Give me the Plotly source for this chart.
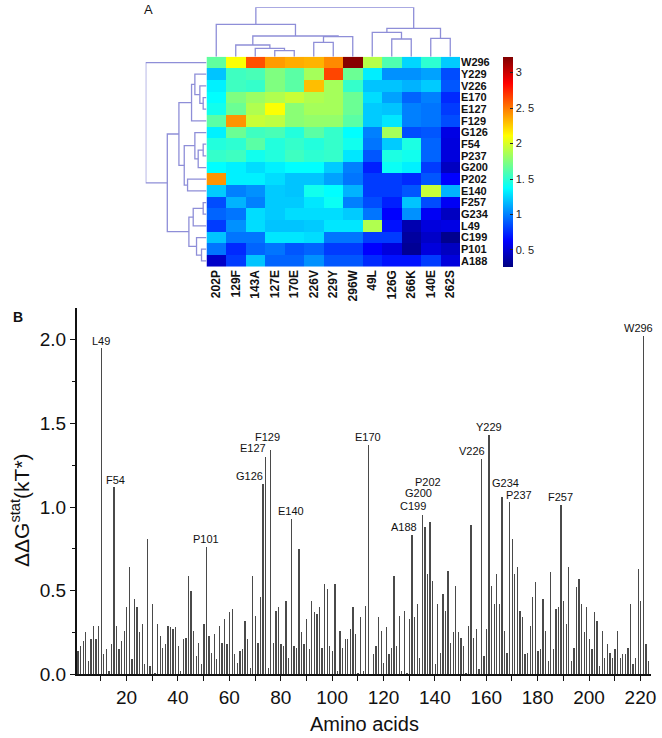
import plotly.graph_objects as go

# ---------------- data ----------------
col_labels = ["202P", "129F", "143A", "127E", "170E", "226V", "229Y", "296W",
              "49L", "126G", "266K", "140E", "262S"]
row_labels = ["W296", "Y229", "V226", "E170", "E127", "F129", "G126", "F54",
              "P237", "G200", "P202", "E140", "F257", "G234", "L49", "C199",
              "P101", "A188"]
heat_values = [
    [1.65, 2.10, 2.62, 2.40, 2.35, 2.33, 2.45, 3.20, 1.90, 1.60, 1.25, 1.50, 1.22],
    [1.20, 1.55, 1.58, 1.74, 1.63, 1.85, 2.65, 1.68, 1.32, 1.05, 1.05, 1.10, 0.85],
    [1.33, 1.55, 1.52, 1.74, 1.63, 2.30, 1.85, 1.52, 1.20, 1.20, 1.15, 1.22, 0.88],
    [1.37, 1.74, 1.82, 1.88, 1.95, 1.88, 1.85, 1.68, 1.27, 1.10, 0.92, 1.00, 0.75],
    [1.42, 1.68, 1.88, 2.10, 1.77, 1.85, 1.85, 1.68, 1.22, 1.20, 1.00, 0.97, 0.80],
    [1.63, 2.42, 1.95, 1.92, 1.77, 1.80, 1.80, 1.63, 1.22, 1.30, 1.00, 0.97, 0.85],
    [1.33, 1.68, 1.55, 1.58, 1.47, 1.63, 1.52, 1.37, 1.00, 1.85, 0.85, 0.88, 0.55],
    [1.47, 1.50, 1.63, 1.47, 1.52, 1.47, 1.52, 1.42, 0.97, 1.22, 1.45, 0.92, 0.53],
    [1.52, 1.55, 1.42, 1.47, 1.55, 1.50, 1.52, 1.30, 0.88, 1.45, 1.42, 0.92, 0.53],
    [1.37, 1.33, 1.27, 1.33, 1.37, 1.37, 1.22, 1.00, 0.72, 1.40, 1.33, 0.80, 0.45],
    [2.42, 1.33, 1.33, 1.27, 1.20, 1.20, 1.10, 0.97, 0.80, 0.80, 0.75, 0.88, 0.63],
    [1.22, 1.00, 1.05, 1.22, 1.20, 1.42, 1.37, 1.15, 0.80, 0.80, 0.88, 1.95, 1.15],
    [0.85, 1.15, 1.00, 1.22, 1.22, 1.30, 1.40, 1.00, 0.85, 0.72, 1.20, 0.85, 0.60],
    [0.92, 0.97, 1.27, 1.22, 1.27, 1.27, 1.27, 1.22, 0.97, 0.63, 1.05, 0.60, 0.45],
    [0.80, 1.05, 1.27, 1.20, 1.20, 1.22, 1.30, 1.30, 1.88, 0.68, 0.40, 0.53, 0.55],
    [1.20, 0.97, 0.97, 1.30, 1.30, 1.27, 0.97, 0.97, 0.80, 0.80, 0.35, 0.47, 0.30],
    [0.97, 0.75, 0.92, 0.97, 0.88, 0.92, 0.80, 0.80, 0.63, 0.53, 0.32, 0.53, 0.45],
    [0.47, 0.80, 1.20, 0.92, 0.92, 1.05, 0.88, 0.88, 0.75, 0.68, 0.68, 0.80, 0.53],
]
cbar_tickvals = [0.5, 1, 1.5, 2, 2.5, 3]
cbar_ticktext = ["0. 5", "1", "1. 5", "2", "2. 5", "3"]

# dendrogram linkages: (child_a, child_b, height); leaves 0..n-1, new nodes n, n+1, ...
col_linkage = [(3, 4, 18), (2, 13, 25), (1, 14, 35), (5, 6, 43), (16, 7, 60),
               (15, 17, 62), (0, 18, 97), (9, 10, 53), (8, 20, 73), (11, 12, 55),
               (21, 22, 85), (19, 23, 148)]
row_linkage = [(3, 4, 10), (2, 18, 20), (1, 19, 35), (20, 5, 45), (7, 8, 10),
               (22, 9, 25), (6, 23, 35), (10, 11, 57), (24, 25, 67), (21, 26, 83),
               (12, 13, 10), (28, 14, 40), (16, 17, 15), (15, 30, 30), (29, 31, 53),
               (27, 32, 118), (0, 33, 183)]

bar_values = [
    0.14, 0.17, 0.20, 0.25, 0.08, 0.21, 0.29, 0.21, 0.29, 1.95,
    0.12, 0.15, 0.02, 0.18, 1.12, 0.29, 0.15, 0.20, 0.26, 0.40,
    0.64, 0.09, 0.45, 0.40, 0.25, 0.30, 0.06, 0.81, 0.05, 0.42,
    0.01, 0.30, 0.23, 0.16, 0.18, 0.29, 0.28, 0.27, 0.28, 0.17,
    0.02, 0.21, 0.22, 0.59, 0.50, 0.26, 0.11, 0.19, 0.06, 0.30,
    0.76, 0.23, 0.13, 0.24, 0.09, 0.29, 0.19, 0.33, 0.18, 0.37,
    0.39, 0.12, 0.07, 0.14, 0.15, 0.32, 0.21, 0.04, 0.59, 0.35,
    0.19, 0.46, 1.14, 1.30, 0.04, 1.34, 0.19, 0.38, 0.40, 0.18,
    0.17, 0.44, 0.10, 0.93, 0.17, 0.16, 0.75, 0.25, 0.18, 0.33,
    0.15, 0.44, 0.37, 0.36, 0.40, 0.16, 0.54, 0.51, 0.17, 0.14,
    0.54, 0.02, 0.26, 0.16, 0.21, 0.21, 0.27, 0.40, 0.24, 0.01,
    0.34, 0.02, 0.41, 1.37, 0.00, 0.12, 0.17, 0.34, 0.26, 0.07,
    0.28, 0.12, 0.16, 0.59, 0.17, 0.35, 0.02, 0.38, 0.01, 0.33,
    0.83, 0.34, 0.42, 0.10, 0.95, 0.88, 0.60, 0.91, 0.56, 0.06,
    0.42, 0.13, 0.48, 0.38, 0.62, 0.19, 0.25, 0.53, 0.25, 0.22,
    0.17, 0.01, 0.29, 0.89, 0.22, 0.27, 0.03, 1.29, 0.11, 0.27,
    1.43, 0.53, 0.42, 0.60, 0.42, 1.06, 0.26, 0.13, 1.03, 0.81,
    0.60, 0.64, 0.38, 0.34, 0.12, 0.13, 0.29, 0.46, 0.55, 0.14,
    0.15, 0.45, 0.26, 0.08, 0.61, 0.15, 0.39, 0.40, 1.01, 0.44,
    0.30, 0.64, 0.08, 0.16, 0.52, 0.57, 0.42, 0.25, 0.40, 0.21,
    0.15, 0.37, 0.32, 0.05, 0.26, 0.10, 0.18, 0.13, 0.10, 0.15,
    0.26, 0.10, 0.12, 0.12, 0.16, 0.42, 0.06, 0.10, 0.63, 0.44,
    2.02, 0.18, 0.08,
]
bar_index = list(range(1, len(bar_values) + 1))

peak_names = ["L49", "F54", "P101", "G126", "E127", "F129", "E140", "E170", "A188",
              "C199", "G200", "P202", "V226", "Y229", "G234", "P237", "F257", "W296"]
peak_index = [10, 15, 51, 73, 74, 76, 84, 114, 131, 135, 136, 138, 158, 161, 166, 169, 189, 221]
# label offsets in pixels (style)
peak_dx = [0, 2, 0, -13, -12, -3, 0, 0, -8, -9, -6, -2, -9, 0, 4, 10, 0, -4]
peak_dy = [7, 7, 8, 8, 9, 13, 8, 8, 8, 9, 34, 40, 8, 8, 14, 7, 8, 8]

# ---------------- layout helpers ----------------
W, H = 662, 738


def xd(a, b):
    return [a / W, b / W]


def yd(top, bottom):
    return [1 - bottom / H, 1 - top / H]


def dendro_lines(linkage, n_leaves):
    pos = {i: float(i) for i in range(n_leaves)}
    hgt = {i: 0.0 for i in range(n_leaves)}
    p, h = [], []
    for k, (a, b, ht) in enumerate(linkage):
        node = n_leaves + k
        p += [pos[a], pos[a], pos[b], pos[b], None]
        h += [hgt[a], ht, ht, hgt[b], None]
        pos[node] = (pos[a] + pos[b]) / 2
        hgt[node] = ht
    return p, h


FONT = "Arial, Liberation Sans, sans-serif"
DCOL = "#8e8ed8"

jet = [[0.0, "rgb(0,0,128)"], [0.125, "rgb(0,0,255)"], [0.375, "rgb(0,255,255)"],
       [0.625, "rgb(255,255,0)"], [0.875, "rgb(255,0,0)"], [1.0, "rgb(128,0,0)"]]

fig = go.Figure()

HM_L, HM_R, HM_T, HM_B = 206.5, 460.0, 56.7, 266.7

fig.add_trace(go.Heatmap(
    z=heat_values, x=list(range(len(col_labels))), y=list(range(len(row_labels))),
    colorscale=jet, zmin=0.26, zmax=3.22, xaxis="x", yaxis="y",
    colorbar=dict(x=503 / W, xanchor="left", xpad=0, y=1 - 267 / H, yanchor="bottom",
                  ypad=0, len=210 / H, lenmode="fraction", thickness=10,
                  thicknessmode="pixels", outlinewidth=0, tickvals=cbar_tickvals,
                  ticktext=cbar_ticktext, ticks="inside", ticklen=3, tickcolor="#222",
                  tickfont=dict(family=FONT, size=11, color="#222")),
))

cx, ch = dendro_lines(col_linkage, len(col_labels))
fig.add_trace(go.Scatter(x=cx, y=ch, mode="lines", line=dict(color=DCOL, width=1.3),
                         xaxis="x2", yaxis="y2", cliponaxis=False, hoverinfo="skip"))
ry, rh = dendro_lines(row_linkage, len(row_labels))
fig.add_trace(go.Scatter(x=rh, y=ry, mode="lines", line=dict(color=DCOL, width=1.3),
                         xaxis="x3", yaxis="y3", cliponaxis=False, hoverinfo="skip"))

fig.add_trace(go.Bar(x=bar_index, y=bar_values, width=0.12,
                     marker=dict(color="#4a4a4a", line=dict(width=0)),
                     xaxis="x4", yaxis="y4", hoverinfo="skip"))

annotations = []
for name, idx, dx, dy in zip(peak_names, peak_index, peak_dx, peak_dy):
    annotations.append(dict(x=idx, y=bar_values[idx - 1], xref="x4", yref="y4",
                            text=name, showarrow=False, xanchor="center", yanchor="middle",
                            xshift=dx, yshift=dy,
                            font=dict(family=FONT, size=11, color="#111")))

annotations += [
    dict(x=148.3 / W, y=1 - 9.5 / H, xref="paper", yref="paper", text="A",
         showarrow=False, xanchor="center", yanchor="middle",
         font=dict(family=FONT, size=13, color="#111")),
    dict(x=18.3 / W, y=1 - 317 / H, xref="paper", yref="paper", text="<b>B</b>",
         showarrow=False, xanchor="center", yanchor="middle",
         font=dict(family=FONT, size=14, color="#111")),
    dict(x=20 / W, y=1 - 510 / H, xref="paper", yref="paper",
         text="ΔΔG<sup>stat</sup>(kT*)", textangle=-90, showarrow=False,
         xanchor="center", yanchor="middle", font=dict(family=FONT, size=21, color="#111")),
    dict(x=364 / W, y=1 - 723.5 / H, xref="paper", yref="paper", text="Amino acids",
         showarrow=False, xanchor="center", yanchor="middle",
         font=dict(family=FONT, size=20, color="#111")),
]

hidden = dict(visible=False, showgrid=False, zeroline=False)

fig.update_layout(
    width=W, height=H, margin=dict(l=0, r=0, t=0, b=0, autoexpand=False),
    paper_bgcolor="white", plot_bgcolor="white", showlegend=False,
    font=dict(family=FONT, color="#111"),
    xaxis=dict(domain=xd(HM_L, HM_R), range=[-0.5, 12.5], tickvals=list(range(len(col_labels))),
               ticktext=col_labels, tickangle=-90, ticks="", showgrid=False, zeroline=False,
               showline=False, anchor="y",
               tickfont=dict(family=FONT, size=12, color="#111", weight="bold")),
    yaxis=dict(domain=yd(HM_T, HM_B), range=[17.5, -0.5], tickvals=list(range(len(row_labels))),
               ticktext=row_labels, side="right", ticks="", showgrid=False, zeroline=False,
               showline=False, anchor="x",
               tickfont=dict(family=FONT, size=11, color="#111", weight="bold")),
    xaxis2=dict(domain=xd(HM_L, HM_R), range=[-0.5, 12.5], anchor="y2", **hidden),
    yaxis2=dict(domain=yd(7.3, HM_T), range=[0, 148], anchor="x2", **hidden),
    xaxis3=dict(domain=xd(145.7, HM_L), range=[183, 0], anchor="y3", **hidden),
    yaxis3=dict(domain=yd(HM_T, HM_B), range=[17.5, -0.5], anchor="x3", **hidden),
    xaxis4=dict(domain=xd(76.7, 650.7), range=[0.6, 224], anchor="y4", tick0=0, dtick=20,
                ticks="outside", ticklen=5, tickwidth=1.3, tickcolor="#111",
                showline=True, linecolor="#111", linewidth=1.5, showgrid=False,
                zeroline=False, tickfont=dict(family=FONT, size=19, color="#111"),
                minor=dict(dtick=10, ticks="outside", ticklen=5, tickwidth=1.3,
                           tickcolor="#111", showgrid=False)),
    yaxis4=dict(domain=yd(308, 674.3), range=[0, 2.19], anchor="x4", tick0=0, dtick=0.5,
                tickformat=".1f", ticks="outside", ticklen=5, tickwidth=1.3,
                tickcolor="#111", showline=True, linecolor="#111", linewidth=1.5,
                showgrid=False, zeroline=False,
                tickfont=dict(family=FONT, size=19, color="#111"),
                minor=dict(dtick=0.25, ticks="outside", ticklen=3, tickwidth=1.3,
                           tickcolor="#111", showgrid=False)),
    bargap=0,
    annotations=annotations,
)

fig.write_html("out.html", config={"displayModeBar": False},
               post_script="document.body.style.margin='0px';document.body.style.overflow='hidden';")
